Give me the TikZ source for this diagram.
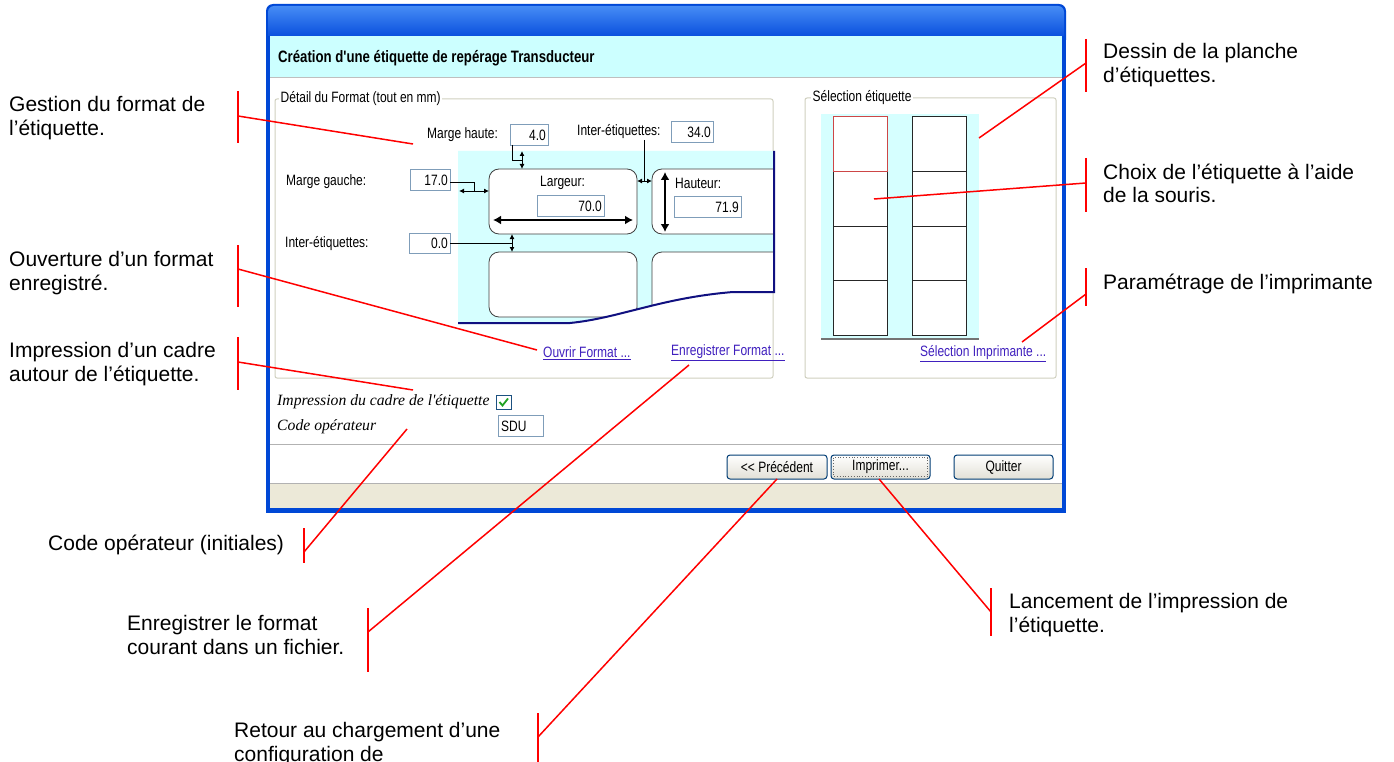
\documentclass[tikz,border=0pt]{standalone}
\usepackage{fontspec}
\setmainfont{Liberation Sans}
\newfontfamily\dlgfont[FakeStretch=0.8]{Liberation Sans}
\newfontfamily\serifit{Liberation Serif}
\usetikzlibrary{arrows.meta}
\definecolor{winblue}{RGB}{0,72,214}
\definecolor{titletop}{RGB}{70,140,245}
\definecolor{titlebot}{RGB}{10,80,222}
\definecolor{headcyan}{RGB}{204,255,255}
\definecolor{panelcyan}{RGB}{214,255,255}
\definecolor{groupgrey}{RGB}{208,208,191}
\definecolor{fieldborder}{RGB}{127,157,185}
\definecolor{statusbg}{RGB}{236,233,216}
\definecolor{linkcol}{RGB}{64,32,190}
\definecolor{navyblue}{RGB}{16,16,128}
\definecolor{btnborder}{RGB}{0,60,116}
\definecolor{btnbottom}{RGB}{226,224,214}
\definecolor{callred}{RGB}{255,0,0}
\definecolor{checkgreen}{RGB}{33,161,33}
\newcommand{\mlines}[1]{\begin{tabular}[t]{@{}l@{}}#1\end{tabular}}
\tikzset{
  callt/.style={font=\fontsize{21}{24}\selectfont, anchor=base west, inner sep=0pt, text=black},
  redbar/.style={draw=callred, line width=2pt},
  leader/.style={draw=callred, line width=1.5pt},
  dlg/.style={font=\dlgfont\fontsize{15}{18}\selectfont, inner sep=0pt, text=black},
  field/.style={draw=fieldborder, fill=white, line width=1pt, inner sep=0pt, anchor=north west},
  linktxt/.style={dlg, text=linkcol, anchor=west},
  btn/.style={draw=btnborder, rounded corners=3pt, line width=1pt, top color=white, bottom color=btnbottom, dlg, minimum height=24pt},
  etiq/.style={draw=black!75, fill=white, rounded corners=10pt, line width=0.8pt},
  tinyarrow/.style={{Latex[length=5pt,width=5pt]}-{Latex[length=5pt,width=5pt]}, line width=0.9pt},
  bigarrow/.style={{Latex[length=8pt,width=9pt]}-{Latex[length=8pt,width=9pt]}, line width=2.5pt},
  cell/.style={draw=black!85, fill=white, line width=1pt},
  grpbox/.style={draw=groupgrey, line width=1pt, rounded corners=2pt},
  grplab/.style={dlg, fill=white, inner xsep=1.5pt, anchor=west}
}
\begin{document}
\begin{tikzpicture}[x=1pt,y=-1pt]
\useasboundingbox (0,0) rectangle (1394,762);
\fill[white] (0,0) rectangle (1394,762);

% ---------- window frame ----------
\fill[winblue] (266,40) {[rounded corners=7pt] -- (266,4) -- (1066,4)} -- (1066,40) -- cycle;
\fill[winblue] (266,30) rectangle (1066,513);
\shade[top color=titletop, bottom color=titlebot] (268,36) {[rounded corners=6pt] -- (268,6) -- (1064,6)} -- (1064,36) -- cycle;
\fill[white] (270,36) rectangle (1062,508);
\fill[headcyan] (270,36) rectangle (1062,77);
\draw[black!25] (270,77.5) -- (1062,77.5);
\fill[statusbg] (270,483) rectangle (1062,508);
\draw[black!30, line width=1pt] (270,483) -- (1062,483);
\draw[black!30, line width=1pt] (270,444) -- (1062,444);

\node[dlg, anchor=west, font=\dlgfont\bfseries\fontsize{16.5}{19}\selectfont] (title) at (278,58)
  {Création d'une étiquette de repérage Transducteur};

% ---------- group box 1 ----------
\draw[grpbox] (275,99) rectangle (773,378);
\node[grplab] (g1lab) at (279,99) {Détail du Format (tout en mm)};

% label sheet panel
\fill[panelcyan] (458,151) -- (774,151) -- (774,292) -- (733,292) .. controls (660,298) and (620,318) .. (570,323) -- (458,323) -- cycle;
\begin{scope}
  \clip (458,151) -- (774,151) -- (774,292) -- (733,292) .. controls (660,298) and (620,318) .. (570,323) -- (458,323) -- cycle;
  \draw[etiq] (489,169) rectangle (637,234);
  \draw[etiq] (790,169) -- (652,169) -- (652,234) -- (790,234);
  \draw[etiq] (489,252) rectangle (637,317);
  \draw[etiq] (790,252) -- (652,252) -- (652,345) -- (790,345);
\end{scope}
\draw[navyblue, line width=2pt] (774,151) -- (774,292) -- (733,292) .. controls (660,298) and (620,318) .. (570,323) -- (458,323);

% texts and fields
\node[dlg, anchor=west] (mh) at (427,135) {Marge haute:};
\node[field, minimum width=38pt, minimum height=21pt] (fmh) at (510,124) {};
\node[dlg, anchor=east] (vmh) at ([xshift=-3pt]fmh.east) {4.0};

\node[dlg, anchor=west] (ie1) at (577,132) {Inter-étiquettes:};
\node[field, minimum width=42pt, minimum height=21pt] (fie1) at (671,121) {};
\node[dlg, anchor=east] (vie1) at ([xshift=-3pt]fie1.east) {34.0};

\node[dlg, anchor=west] (mg) at (286,182) {Marge gauche:};
\node[field, minimum width=40pt, minimum height=21pt] (fmg) at (410,169) {};
\node[dlg, anchor=east] (vmg) at ([xshift=-3pt]fmg.east) {17.0};

\node[dlg, anchor=west] (ie2) at (285,244) {Inter-étiquettes:};
\node[field, minimum width=41pt, minimum height=20pt] (fie2) at (409,233) {};
\node[dlg, anchor=east] (vie2) at ([xshift=-3pt]fie2.east) {0.0};

\node[dlg, anchor=west] (larg) at (540,183) {Largeur:};
\node[field, minimum width=67pt, minimum height=21pt] (flarg) at (537,195) {};
\node[dlg, anchor=east] (vlarg) at ([xshift=-3pt]flarg.east) {70.0};

\node[dlg, anchor=west] (haut) at (675,183) {Hauteur:};
\node[field, minimum width=67pt, minimum height=21pt] (fhaut) at (674,196) {};
\node[dlg, anchor=east] (vhaut) at ([xshift=-3pt]fhaut.east) {71.9};

% dimension arrows
\draw[line width=0.9pt] (512,145) -- (512,160) -- (522,160);
\draw[tinyarrow] (522,151) -- (522,169);
\draw[line width=0.9pt] (644,140) -- (644,181);
\draw[tinyarrow] (637,181) -- (652,181);
\draw[line width=0.9pt] (450,182) -- (474,182) -- (474,191);
\draw[tinyarrow] (459,191) -- (489,191);
\draw[line width=0.9pt] (450,243) -- (512,243);
\draw[tinyarrow] (512,234) -- (512,252);
\draw[bigarrow] (493,220) -- (633,220);
\draw[bigarrow] (665,172) -- (665,232);

\node[linktxt] (ouvrir) at (543,353) {\underline{Ouvrir Format ...}};
\node[linktxt] (enreg) at (671,353) {\underline{Enregistrer Format ...}};

% ---------- group box 2 ----------
\draw[grpbox] (805,98) rectangle (1056,378);
\node[grplab] (g2lab) at (811,98) {Sélection étiquette};
\fill[panelcyan] (821,114) rectangle (979,339);
\draw[black!55, line width=1.5pt] (821,339) -- (979,339);
\foreach \r in {0,1,2,3} {
  \draw[cell] (833,{117+54.5*\r}) rectangle (887,{171.5+54.5*\r});
  \draw[cell] (912,{117+54.5*\r}) rectangle (966,{171.5+54.5*\r});
}
\draw[draw={rgb,255:red,205;green,70;blue,70}, line width=1pt] (833,117) rectangle (887,171.5);
\node[linktxt] (selimp) at (920,354) {\underline{Sélection Imprimante ...}};

% ---------- bottom of dialog ----------
\node[font=\serifit\itshape\fontsize{15.7}{18}\selectfont, inner sep=0pt, anchor=west] (impr) at (277,402) {Impression du cadre de l'étiquette};
\node[draw={rgb,255:red,28;green,81;blue,128}, fill=white, line width=1pt, minimum width=15pt, minimum height=14pt, inner sep=0pt, anchor=north west] (chk) at (496,395) {};
\draw[checkgreen, line width=1.8pt] (499.5,402) -- (502.5,405.5) -- (508,398.5);
\node[font=\serifit\itshape\fontsize{15.7}{18}\selectfont, inner sep=0pt, anchor=west] (codeop) at (277,427) {Code opérateur};
\node[field, minimum width=45pt, minimum height=21pt] (fsdu) at (498,415) {};
\node[dlg, anchor=west] (vsdu) at ([xshift=3pt]fsdu.west) {SDU};

\node[btn, minimum width=100pt] (bprec) at (777,467) {<< Précédent};
\node[btn, minimum width=99pt] (bimp) at (880.5,467) {Imprimer...};
\draw[black!60, dotted, line width=0.8pt] ([shift={(3,3)}]bimp.north west) rectangle ([shift={(-3,-3)}]bimp.south east);
\node[btn, minimum width=99pt] (bquit) at (1003.5,467) {Quitter};

% ---------- callouts ----------
\node[callt] (c1) at (9,112) {\mlines{Gestion du format de\\l’étiquette.}};
\node[callt] (c2) at (9,266) {\mlines{Ouverture d’un format\\enregistré.}};
\node[callt] (c3) at (9,357) {\mlines{Impression d’un cadre\\autour de l’étiquette.}};
\node[callt] (c4) at (48,550) {Code opérateur (initiales)};
\node[callt] (c5) at (127,630) {\mlines{Enregistrer le format\\courant dans un fichier.}};
\node[callt] (c6) at (234,737) {\mlines{Retour au chargement d’une\\configuration de}};
\node[callt] (c7) at (1009,608) {\mlines{Lancement de l’impression de\\l’étiquette.}};
\node[callt] (c8) at (1103,59) {\mlines{Dessin de la planche\\d’étiquettes.}};
\node[callt] (c9) at (1103,179) {\mlines{Choix de l’étiquette à l’aide\\de la souris.}};
\node[callt] (c10) at (1103,289) {Paramétrage de l’imprimante};

% bars
\coordinate (b1a) at (238,91);   \coordinate (b1b) at (238,143);
\coordinate (b2a) at (238,245);  \coordinate (b2b) at (238,307);
\coordinate (b3a) at (238,337);  \coordinate (b3b) at (238,390);
\coordinate (b4a) at (304,528);  \coordinate (b4b) at (304,563);
\coordinate (b5a) at (368,608);  \coordinate (b5b) at (368,672);
\coordinate (b6a) at (538,713);  \coordinate (b6b) at (538,775);
\coordinate (b7a) at (991,588);  \coordinate (b7b) at (991,636);
\coordinate (b8a) at (1086,39);  \coordinate (b8b) at (1086,92);
\coordinate (b9a) at (1086,158); \coordinate (b9b) at (1086,212);
\coordinate (b10a) at (1086,268); \coordinate (b10b) at (1086,306);
\foreach \i in {1,...,10} { \draw[redbar] (b\i a) -- (b\i b); }

% leader start points and targets
\coordinate (s1) at (238,116);  \coordinate (t1) at (413,144);
\coordinate (s2) at (238,269);  \coordinate (t2) at (537,350);
\coordinate (s3) at (238,362);  \coordinate (t3) at (413,390);
\coordinate (s4) at (304,552);  \coordinate (t4) at (407,429);
\coordinate (s5) at (368,632);  \coordinate (t5) at (689,365);
\coordinate (s6) at (538,737);  \coordinate (t6) at (777,479);
\coordinate (s7) at (991,612);  \coordinate (t7) at (879,479);
\coordinate (s8) at (1086,63);  \coordinate (t8) at (979,138);
\coordinate (s9) at (1086,183); \coordinate (t9) at (874,199);
\coordinate (s10) at (1086,294); \coordinate (t10) at (1022,342);
\foreach \i in {1,...,10} { \draw[leader] (s\i) -- (t\i); }
\end{tikzpicture}
\end{document}
